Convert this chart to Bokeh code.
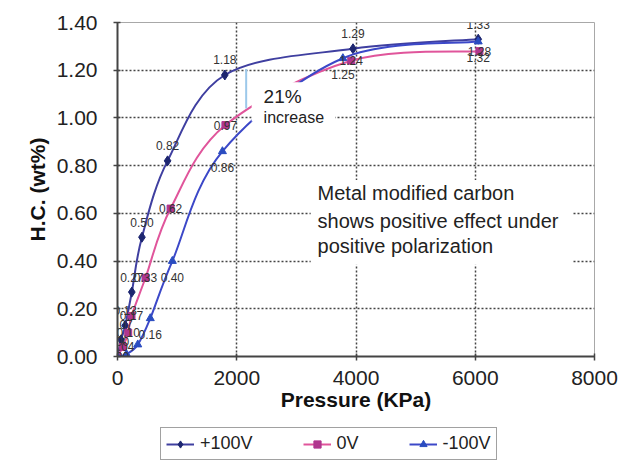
from bokeh.plotting import figure
from bokeh.layouts import column
from bokeh.models import (Range1d, FixedTicker, PrintfTickFormatter, ColumnDataSource,
                          Legend, LegendItem, BoxAnnotation, Label)
from bokeh.core.properties import value
from bokeh.embed import file_html
from bokeh.resources import INLINE

# ---- data ----
series_names = ["+100V", "0V", "-100V"]

p_pos = [0, 60, 130, 240, 410, 840, 1800, 3950, 6050]
hc_pos = [0.00, 0.07, 0.13, 0.27, 0.50, 0.82, 1.18, 1.29, 1.33]

p_zero = [0, 90, 180, 235, 470, 890, 1810, 3920, 6070]
hc_zero = [0.00, 0.04, 0.10, 0.17, 0.33, 0.62, 0.97, 1.24, 1.28]

p_neg = [0, 150, 340, 550, 920, 1760, 3780, 6050]
hc_neg = [0.00, 0.01, 0.05, 0.16, 0.40, 0.86, 1.25, 1.32]

x_ticks = [0, 2000, 4000, 6000, 8000]
y_ticks = [0.0, 0.2, 0.4, 0.6, 0.8, 1.0, 1.2, 1.4]

FONT = "Liberation Sans"

p = figure(width=631, height=426, x_range=Range1d(0, 8000), y_range=Range1d(0, 1.4),
           output_backend="svg", toolbar_location=None,
           min_border_left=117, min_border_right=37, min_border_top=22, min_border_bottom=70,
           background_fill_color="white", border_fill_color="white")
p.outline_line_color = "#a8a8a8"
p.outline_line_width = 1

for ax in (p.xaxis[0], p.yaxis[0]):
    ax.axis_line_color = "#444444"
    ax.axis_line_width = 2
    ax.major_tick_line_color = "#444444"
    ax.major_tick_line_width = 1.5
    ax.major_tick_in = 3
    ax.major_tick_out = 4
    ax.minor_tick_line_color = None
    ax.major_label_text_font = FONT
    ax.major_label_text_font_size = "21px"
    ax.major_label_text_color = "#222222"
    ax.axis_label_text_font = FONT
    ax.axis_label_text_font_style = "bold"
    ax.axis_label_text_font_size = "21px"
    ax.axis_label_text_color = "#111111"

p.xaxis.ticker = FixedTicker(ticks=x_ticks)
p.yaxis.ticker = FixedTicker(ticks=y_ticks)
p.yaxis.formatter = PrintfTickFormatter(format="%.2f")
p.xaxis.axis_label = "Pressure (KPa)"
p.yaxis.axis_label = "H.C. (wt%)"
p.xaxis.major_label_standoff = 10
p.xaxis.axis_label_standoff = 0
p.yaxis.major_label_standoff = 16
p.yaxis.axis_label_standoff = 5

p.xgrid.ticker = FixedTicker(ticks=x_ticks[1:-1])
p.ygrid.ticker = FixedTicker(ticks=y_ticks[1:-1])
for g in (p.xgrid[0], p.ygrid[0]):
    g.grid_line_color = "#444444"
    g.grid_line_dash = "2 2"
    g.grid_line_width = 1.5


def smooth(xs, ys):
    n = len(xs)
    d = dict(x0=[], y0=[], x1=[], y1=[], cx0=[], cy0=[], cx1=[], cy1=[])
    for i in range(n - 1):
        a = i - 1 if i > 0 else i
        b = i + 2 if i + 2 < n else i + 1
        d["x0"].append(xs[i]); d["y0"].append(ys[i])
        d["x1"].append(xs[i + 1]); d["y1"].append(ys[i + 1])
        d["cx0"].append(xs[i] + (xs[i + 1] - xs[a]) / 6)
        d["cy0"].append(ys[i] + (ys[i + 1] - ys[a]) / 6)
        d["cx1"].append(xs[i + 1] - (xs[b] - xs[i]) / 6)
        d["cy1"].append(ys[i + 1] - (ys[b] - ys[i]) / 6)
    return ColumnDataSource(d)


styles = [
    (p_pos, hc_pos, "#3f3fa0", "#1d2670", "diamond", 10, -15),
    (p_zero, hc_zero, "#e0559b", "#b0368e", "square", 7, 0),
    (p_neg, hc_neg, "#3c48c8", "#2a4cc0", "triangle", 8, 16),
]

# small strip below the chart that only holds the legend
lf = figure(width=631, height=34, x_range=Range1d(-2, -1), y_range=Range1d(-2, -1),
            output_backend="svg", toolbar_location=None, x_axis_type=None, y_axis_type=None,
            min_border=0, background_fill_color="white", border_fill_color="white")
lf.outline_line_color = None
lf.xgrid.visible = False
lf.ygrid.visible = False

items = []
label_sets = []
for name, (xs, ys, lc, mc, marker, size, yoff) in zip(series_names, styles):
    src = smooth(xs, ys)
    p.bezier(x0="x0", y0="y0", x1="x1", y1="y1", cx0="cx0", cy0="cy0",
             cx1="cx1", cy1="cy1", source=src, line_color=lc, line_width=2)
    p.scatter(xs, ys, marker=marker, size=size, fill_color=mc, line_color=mc)
    lb = lf.bezier(x0="x0", y0="y0", x1="x1", y1="y1", cx0="cx0", cy0="cy0",
                   cx1="cx1", cy1="cy1", source=src, line_color=lc, line_width=2)
    ls = lf.scatter(xs, ys, marker=marker, size=size, fill_color=mc, line_color=mc)
    items.append(LegendItem(label=name, renderers=[lb, ls]))
    label_sets.append((xs, ys, yoff))

# white text boxes (cover the curves / grid like the original)
p.add_layout(BoxAnnotation(left=2250, right=3650, bottom=0.985, top=1.15,
                           fill_color="white", fill_alpha=1, line_color=None))
p.add_layout(BoxAnnotation(left=3240, right=7630, bottom=0.385, top=0.74,
                           fill_color="white", fill_alpha=1, line_color=None))

# "21% increase" arrow
p.segment(x0=[2158], y0=[1.04], x1=[2158], y1=[1.205], line_color="#9cc8ea", line_width=2)

for xs, ys, yoff in label_sets:
    src = ColumnDataSource(dict(x=xs, y=ys, t=[f"{v:.2f}" for v in ys]))
    p.text(x="x", y="y", text="t", source=src, y_offset=yoff, text_align="center",
           text_baseline="middle", text_font=value(FONT), text_font_size="12px",
           text_color="#333333")

p.add_layout(Label(x=2450, y=1.09, text="21%", text_font=FONT, text_font_size="19px",
                   text_color="#222222", text_baseline="middle"))
p.add_layout(Label(x=2450, y=1.00, text="increase", text_font=FONT, text_font_size="16px",
                   text_color="#222222", text_baseline="middle"))
for txt, yy in [("Metal modified carbon", 0.687),
                ("shows positive effect under", 0.570),
                ("positive polarization", 0.465)]:
    p.add_layout(Label(x=3355, y=yy, text=txt, text_font=FONT, text_font_size="20px",
                       text_color="#222222", text_baseline="middle"))

legend = Legend(items=items, orientation="horizontal", location=(43, 0), margin=0,
                label_text_font=FONT, label_text_font_size="18px", label_text_color="#222222",
                glyph_width=28, glyph_height=18, label_height=18, label_standoff=6,
                spacing=50, padding=5,
                border_line_color="#444444", border_line_width=1.5,
                background_fill_color="white", background_fill_alpha=1)
lf.add_layout(legend, "center")

layout = column(p, lf, spacing=0)
open("out.html", "w").write(file_html(layout, INLINE))
